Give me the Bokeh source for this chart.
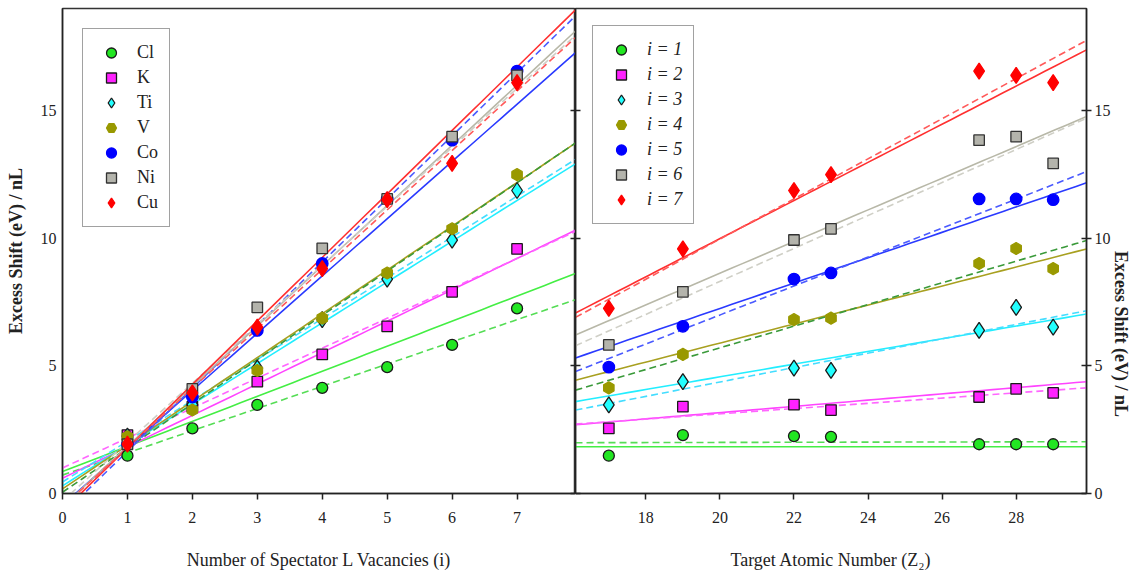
import numpy as np
from bokeh.plotting import figure
from bokeh.models import Range1d, LinearAxis, FixedTicker, Legend, LegendItem
from bokeh.layouts import row
from bokeh.embed import file_html
from bokeh.resources import INLINE

# ---------------- data ----------------
vacancies = [1, 2, 3, 4, 5, 6, 7]
elements = ["Cl", "K", "Ti", "V", "Co", "Ni", "Cu"]
z_numbers = [17, 19, 22, 23, 27, 28, 29]
i_labels = ["i = 1", "i = 2", "i = 3", "i = 4", "i = 5", "i = 6", "i = 7"]

# excess shift (eV)/n_L for each element, i = 1..7
shift_Cl = [1.48, 2.55, 3.47, 4.14, 4.95, 5.82, 7.25]
shift_K = [2.29, 3.40, 4.38, 5.45, 6.55, 7.90, 9.58]
shift_Ti = [2.25, 3.48, 4.91, 6.81, 8.40, 9.93, 11.87]
shift_V = [2.22, 3.27, 4.82, 6.87, 8.64, 10.37, 12.49]
shift_Co = [1.93, 3.78, 6.39, 9.01, 11.54, 13.84, 16.55]
shift_Ni = [1.93, 4.10, 7.29, 9.60, 11.54, 13.98, 16.38]
shift_Cu = [1.93, 3.94, 6.52, 8.81, 11.51, 12.93, 16.10]
shifts = [shift_Cl, shift_K, shift_Ti, shift_V, shift_Co, shift_Ni, shift_Cu]

# linear fits vs number of vacancies i (per element)
fit_i_solid_intercept = [0.86, 0.60, 0.30, 0.18, -0.45, -0.51, -0.70]
fit_i_solid_slope = [0.982, 1.23, 1.597, 1.715, 2.243, 2.358, 2.487]
fit_i_dashed_intercept = [0.72, 1.00, 0.45, 0.05, -0.82, -0.30, -0.53]
fit_i_dashed_slope = [0.87, 1.173, 1.60, 1.732, 2.472, 2.31, 2.328]

# linear fits vs target atomic number Z2 (per i)
fit_z_solid_intercept = [1.83, 0.718, -0.402, -1.557, -2.693, -3.777, -4.958]
fit_z_solid_slope = [0.0, 0.1225, 0.2486, 0.3725, 0.4971, 0.6203, 0.7471]
fit_z_dashed_intercept = [1.943, 1.063, -1.269, -2.786, -4.355, -4.606, -5.758]
fit_z_dashed_slope = [0.0029, 0.1029, 0.2819, 0.4246, 0.5674, 0.6457, 0.7862]

# ---------------- styles ----------------
FONT = "Liberation Serif"
marker_types = ["circle", "square", "diamond", "hex", "circle", "square", "diamond"]
marker_angles = [0, 0, 0, np.pi / 2, 0, 0, 0]
marker_sizes = [11, 10.5, 16, 12, 11.5, 10.5, 16]
marker_fill = ["#22e622", "#ff22ff", "#22ffff", "#999900", "#0000ff", "#b4b4ac", "#ff0000"]
marker_line = ["#1a1a1a", "#1a1a1a", "#1a1a1a", "#999900", "#0000ff", "#333333", "#ff0000"]
solid_colors = ["#44ee44", "#ff44ff", "#22eeff", "#a8a020", "#2a3aff", "#b8b8a8", "#ff3030"]
dashed_colors = ["#55dd55", "#ff66ff", "#44ddff", "#3a9a3a", "#4a5aff", "#cfcfc6", "#ff5a5a"]

Y_MAX = 19.0
XI = (0.0, 7.9)
XZ = (16.1, 29.9)
FRAME_H = 485
TOP = 8
BOTTOM = 85


def style_common(p):
    p.xgrid.visible = False
    p.ygrid.visible = False
    p.outline_line_color = "#333333"
    p.outline_line_width = 1.5
    p.background_fill_color = "white"
    p.border_fill_color = "white"


def style_axis(ax, ticks, tick_in, tick_out, label_size="16px", standoff=8):
    ax.ticker = FixedTicker(ticks=ticks)
    ax.major_tick_in = tick_in
    ax.major_tick_out = tick_out
    ax.minor_tick_in = 0
    ax.minor_tick_out = 0
    ax.axis_line_width = 1.5
    ax.axis_line_color = "#222222"
    ax.major_tick_line_width = 1.5
    ax.major_tick_line_color = "#222222"
    ax.major_label_text_font = FONT
    ax.major_label_text_font_size = label_size
    ax.major_label_text_color = "#222222"
    ax.major_label_standoff = standoff


def tick_only_axis(ticks):
    ax = LinearAxis()
    style_axis(ax, ticks, 5, 0, label_size="0px", standoff=0)
    ax.major_label_text_color = None
    return ax


def make_legend(items):
    return Legend(
        items=items, location="top_left", margin=20,
        border_line_color="#444444", border_line_width=1.5,
        background_fill_color="white", background_fill_alpha=1.0,
        padding=11, spacing=0, glyph_width=34, glyph_height=25,
        label_height=25, label_standoff=9,
        label_text_font=FONT, label_text_font_size="18px",
        label_text_color="#222222",
    )


def style_xlabel(ax, text):
    ax.axis_label = text
    ax.axis_label_text_font = FONT
    ax.axis_label_text_font_size = "18px"
    ax.axis_label_text_font_style = "normal"
    ax.axis_label_text_color = "#222222"
    ax.axis_label_standoff = 24


def style_ylabel(ax, text, standoff):
    ax.axis_label = text
    ax.axis_label_text_font = FONT
    ax.axis_label_text_font_size = "18px"
    ax.axis_label_text_font_style = "bold"
    ax.axis_label_text_color = "#222222"
    ax.axis_label_standoff = standoff


# ---------------- left panel ----------------
p1 = figure(width=575, height=TOP + FRAME_H + BOTTOM, output_backend="svg", toolbar_location=None,
            x_range=Range1d(*XI), y_range=Range1d(0, Y_MAX),
            min_border_left=62, min_border_right=0, min_border_top=TOP, min_border_bottom=BOTTOM)
style_common(p1)

xi = np.linspace(XI[0], XI[1], 50)
for k in range(7):
    p1.line(xi, fit_i_solid_intercept[k] + fit_i_solid_slope[k] * xi,
            line_color=solid_colors[k], line_width=1.6)
    p1.line(xi, fit_i_dashed_intercept[k] + fit_i_dashed_slope[k] * xi,
            line_color=dashed_colors[k], line_width=1.6, line_dash="7 4")

items1 = []
for k in range(7):
    r = p1.scatter(vacancies, shifts[k], marker=marker_types[k], angle=marker_angles[k],
                   size=marker_sizes[k], fill_color=marker_fill[k],
                   line_color=marker_line[k], line_width=1.3)
    items1.append(LegendItem(label=elements[k], renderers=[r]))
p1.add_layout(make_legend(items1))

style_axis(p1.xaxis[0], [0, 1, 2, 3, 4, 5, 6, 7], 0, 6, standoff=12)
style_xlabel(p1.xaxis[0], "Number of Spectator L Vacancies (i)")

style_axis(p1.yaxis[0], [0, 5, 10, 15], 0, 0, standoff=6)
style_ylabel(p1.yaxis[0], "Excess Shift (eV) / nL", 12)

p1.add_layout(tick_only_axis([0, 5, 10, 15]), "right")

# ---------------- right panel ----------------
p2 = figure(width=568, height=TOP + FRAME_H + BOTTOM, output_backend="svg", toolbar_location=None,
            x_range=Range1d(*XZ), y_range=Range1d(0, Y_MAX), y_axis_location="right",
            min_border_left=0, min_border_right=56, min_border_top=TOP, min_border_bottom=BOTTOM)
style_common(p2)

xz = np.linspace(XZ[0], XZ[1], 50)
for k in range(7):
    p2.line(xz, fit_z_solid_intercept[k] + fit_z_solid_slope[k] * xz,
            line_color=solid_colors[k], line_width=1.6)
    p2.line(xz, fit_z_dashed_intercept[k] + fit_z_dashed_slope[k] * xz,
            line_color=dashed_colors[k], line_width=1.6, line_dash="7 4")

items2 = []
for k in range(7):
    vals = [shifts[e][k] for e in range(7)]
    r = p2.scatter(z_numbers, vals, marker=marker_types[k], angle=marker_angles[k],
                   size=marker_sizes[k], fill_color=marker_fill[k],
                   line_color=marker_line[k], line_width=1.3)
    items2.append(LegendItem(label=i_labels[k], renderers=[r]))
leg2 = make_legend(items2)
leg2.margin = 17
leg2.label_text_font_style = "italic"
p2.add_layout(leg2)

style_axis(p2.xaxis[0], [18, 20, 22, 24, 26, 28], 0, 6, standoff=12)
style_xlabel(p2.xaxis[0], "Target Atomic Number (Z₂)")

style_axis(p2.yaxis[0], [0, 5, 10, 15], 5, 5, standoff=3)
style_ylabel(p2.yaxis[0], "Excess Shift (eV) / nL", 7)
try:
    p2.yaxis[0].axis_label_orientation = -np.pi / 2
except Exception:
    pass

p2.add_layout(tick_only_axis([0, 5, 10, 15]), "left")

layout = row(p1, p2, spacing=0)
open("out.html", "w").write(file_html(layout, INLINE))
